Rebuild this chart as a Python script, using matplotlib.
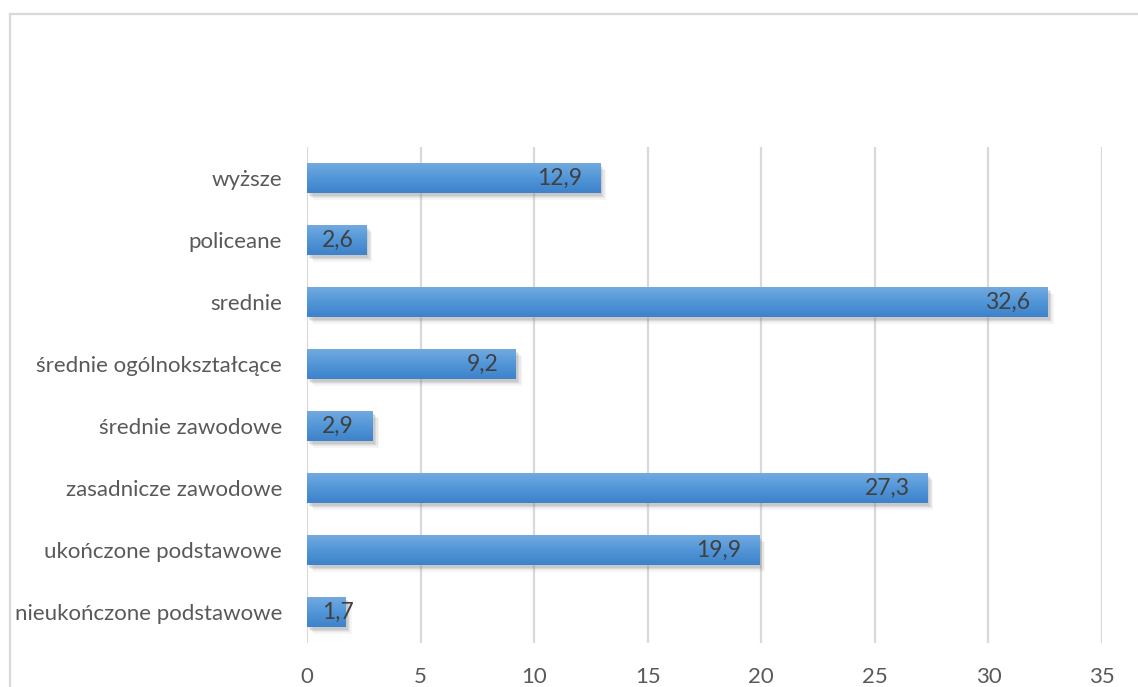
import numpy as np
import matplotlib
matplotlib.use("Agg")
import matplotlib.pyplot as plt
from matplotlib.colors import LinearSegmentedColormap
from matplotlib.lines import Line2D
import matplotlib.patheffects as pe

categories = ["nieukończone podstawowe", "ukończone podstawowe", "zasadnicze zawodowe",
              "średnie zawodowe", "średnie ogólnokształcące", "srednie", "policeane", "wyższe"]
values = [1.7, 19.9, 27.3, 2.9, 9.2, 32.6, 2.6, 12.9]
labels = ["1,7", "19,9", "27,3", "2,9", "9,2", "32,6", "2,6", "12,9"]
xticks = [0, 5, 10, 15, 20, 25, 30, 35]

plt.rcParams['font.family'] = ['Lato', 'DejaVu Sans']

fig = plt.figure(figsize=(11.38, 6.87), dpi=100)
ax = fig.add_axes([307/1138, 1-643/687, (1102-307)/1138, (643-147)/687])

y = np.arange(len(categories))
shadow = [pe.SimplePatchShadow(offset=(o, -o - 0.5), shadow_rgbFace="#8c8c8c", alpha=a)
          for o, a in [(4.5, 0.08), (3.5, 0.12), (2.5, 0.16), (1.5, 0.2)]]
bars = ax.barh(y, values, height=0.48, color="#5193d6", zorder=3,
               path_effects=shadow + [pe.Normal()])

cmap = LinearSegmentedColormap.from_list("g", ["#72aae0", "#5296d8", "#3d82ca"])
grad = np.linspace(0, 1, 64).reshape(-1, 1)
for b in bars:
    x0, y0, w, h = b.get_x(), b.get_y(), b.get_width(), b.get_height()
    im = ax.imshow(grad, cmap=cmap, aspect='auto', origin='upper',
                   extent=(x0, x0 + w, y0, y0 + h), zorder=4, interpolation='bilinear')
    im.set_clip_path(b)

for yi, v, lab in zip(y, values, labels):
    if v < 4:
        ax.text(0.66, yi, lab, ha='left', va='center', fontsize=16.5, color="#404040", zorder=5)
    else:
        ax.text(v - 0.78, yi, lab, ha='right', va='center', fontsize=16.5, color="#404040", zorder=5)

ax.set_xlim(0, 35)
ax.set_ylim(-0.5, len(categories) - 0.5)
ax.set_xticks(xticks)
ax.set_xticklabels([str(t) for t in xticks])
ax.set_yticks(y)
ax.set_yticklabels(categories)
ax.tick_params(axis='both', length=0, labelsize=16, labelcolor="#595959")
ax.tick_params(axis='x', pad=17)
ax.tick_params(axis='y', pad=18)
ax.grid(axis='x', color="#d9d9d9", linewidth=1.6, zorder=0)
ax.set_axisbelow(True)
for s in ax.spines.values():
    s.set_visible(False)

# figure frame (left and top edges visible)
fig.add_artist(Line2D([10/1138, 10/1138], [0, 1-14/687], color="#d9d9d9", linewidth=1.6))
fig.add_artist(Line2D([10/1138, 1], [1-14/687, 1-14/687], color="#d9d9d9", linewidth=1.6))

fig.savefig("out.png", dpi=100)
